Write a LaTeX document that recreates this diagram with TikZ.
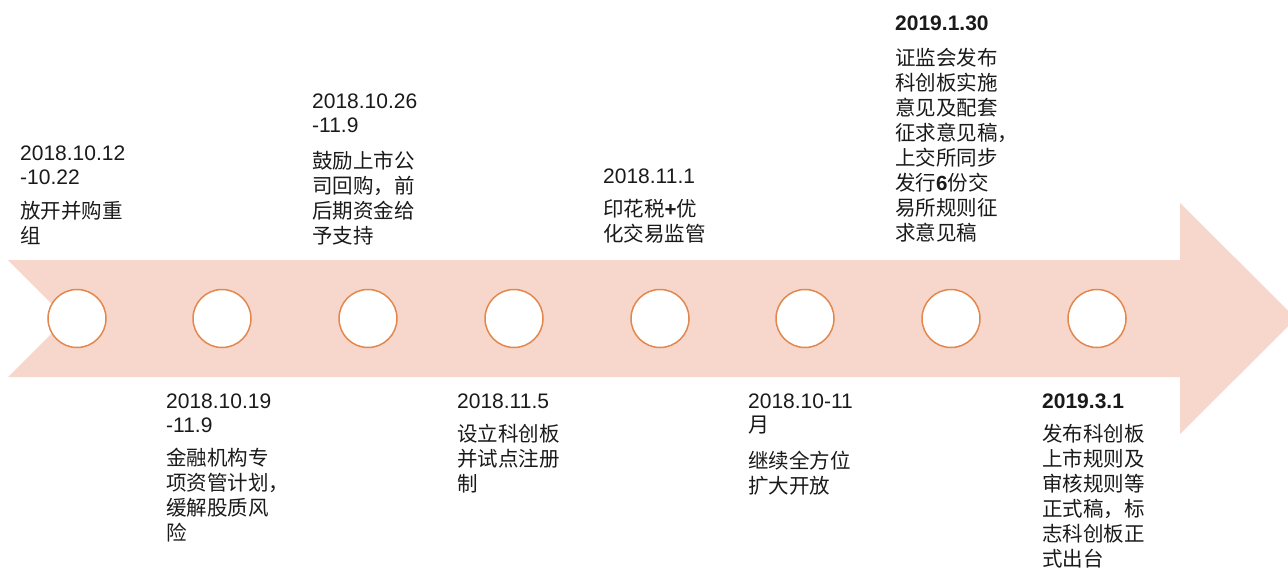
\documentclass[tikz,border=0pt]{standalone}
\usepackage{fontspec}
\setmainfont{Liberation Sans}
\newfontfamily\cjk{Noto Sans CJK SC}
\definecolor{band}{HTML}{F7D7CC}
\definecolor{ring}{HTML}{E2884F}
\definecolor{txt}{HTML}{1A1A1A}
\begin{document}
\begin{tikzpicture}[x=1pt,y=-1pt,
  datetxt/.style={anchor=base west, inner sep=0pt, align=left, text=txt, font=\fontsize{21}{24}\selectfont},
  desctxt/.style={anchor=base west, inner sep=0pt, align=left, text=txt, font=\cjk\fontsize{20.5}{25}\selectfont},
  dot/.style={circle, draw=ring, line width=1.5pt, fill=white, minimum size=58pt, inner sep=0pt}]
\clip (0,0) rectangle (1288,570);
\fill[white] (0,0) rectangle (1288,570);
% band arrow
\fill[band] (8,260) -- (1180,260) -- (1180,203) -- (1296,318.5) -- (1180,434) -- (1180,377) -- (8,377) -- (66.5,318.5) -- cycle;
% circles
\foreach \i/\x in {1/77,2/222,3/368,4/514,5/660,6/805,7/951,8/1097}
  \node[dot] (c\i) at (\x,318.5) {};
% (node positions give the baseline of the LAST line)
% block A
\node[datetxt] (dA) at (20,184) {2018.10.12\\-10.22};
\node[desctxt] (tA) at (20,243) {放开并购重\\组};
% block B
\node[datetxt] (dB) at (166,432) {2018.10.19\\-11.9};
\node[desctxt] (tB) at (166,540) {金融机构专\\项资管计划，\\缓解股质风\\险};
% block C
\node[datetxt] (dC) at (312,132) {2018.10.26\\-11.9};
\node[desctxt] (tC) at (312,243) {鼓励上市公\\司回购，前\\后期资金给\\予支持};
% block D
\node[datetxt] (dD) at (457,408) {2018.11.5};
\node[desctxt] (tD) at (457,491) {设立科创板\\并试点注册\\制};
% block E
\node[datetxt] (dE) at (603,183) {2018.11.1};
\node[desctxt] (tE) at (603,241) {印花税{\rmfamily\bfseries +}优\\化交易监管};
% block F
\node[datetxt] (dF) at (748,432) {2018.10-11\\{\cjk 月}};
\node[desctxt] (tF) at (748,493) {继续全方位\\扩大开放};
% block G
\node[datetxt, font=\bfseries\fontsize{21}{24}\selectfont] (dG) at (895,30) {2019.1.30};
\node[desctxt] (tG) at (895,240) {证监会发布\\科创板实施\\意见及配套\\征求意见稿，\\上交所同步\\发行{\rmfamily\bfseries 6}份交\\易所规则征\\求意见稿};
% block H
\node[datetxt, font=\bfseries\fontsize{21}{24}\selectfont] (dH) at (1042,408) {2019.3.1};
\node[desctxt] (tH) at (1042,566) {发布科创板\\上市规则及\\审核规则等\\正式稿，标\\志科创板正\\式出台};
\end{tikzpicture}
\end{document}
